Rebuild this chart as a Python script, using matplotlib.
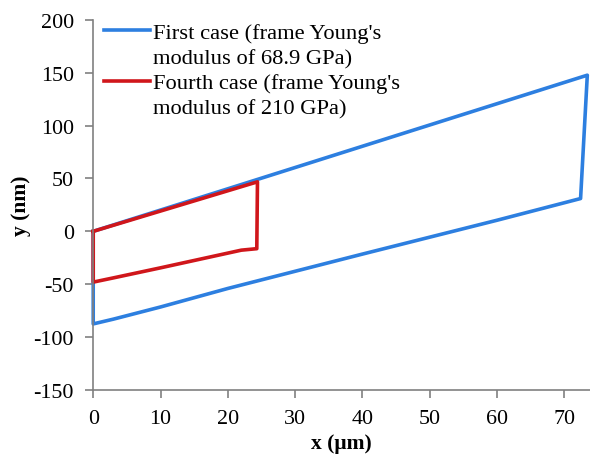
import matplotlib
matplotlib.use('Agg')
import matplotlib.pyplot as plt
from matplotlib.lines import Line2D

plt.rcParams['font.family'] = ['Liberation Serif', 'DejaVu Serif']
plt.rcParams['axes.unicode_minus'] = False

# first case (E = 68.9 GPa) closed loop
x_first = [0, 73.4, 72.4, 60, 40, 20, 10, 3, 0, 0]
y_first = [0, 147.6, 31, 10.5, -21.5, -54, -71.5, -83, -87.5, 0]
# fourth case (E = 210 GPa) closed loop
x_fourth = [0, 24.4, 24.3, 22, 10, 3, 0, 0]
y_fourth = [0, 46.8, -16.4, -17.8, -34.5, -44, -48, 0]

label_lines = ["First case (frame Young's", "modulus of 68.9 GPa)",
               "Fourth case (frame Young's", "modulus of 210 GPa)"]
xticks = [0, 10, 20, 30, 40, 50, 60, 70]
yticks = [-150, -100, -50, 0, 50, 100, 150, 200]
blue = '#2d7fe0'
red = '#d0161b'

fig = plt.figure(figsize=(5.9, 4.56), dpi=100)
ax = fig.add_axes([0.158, 0.1425, 0.842, 0.812])

ax.plot(x_first, y_first, color=blue, lw=2.6, clip_on=False)
ax.plot(x_fourth, y_fourth, color=red, lw=2.6, clip_on=False)

ax.set_xlim(0, 73.8)
ax.set_ylim(-150, 200)
ax.set_xticks(xticks)
ax.set_yticks(yticks)
ax.tick_params(labelsize=15.8, color='#808080', length=6, width=1.2, pad=8)

for s in ['top', 'right']:
    ax.spines[s].set_visible(False)
for s in ['left', 'bottom']:
    ax.spines[s].set_color('#808080')
    ax.spines[s].set_linewidth(1.2)

ax.set_xlabel('x (\u03bcm)', fontsize=15.5, fontweight='bold', labelpad=3)
ax.set_ylabel('y (nm)', fontsize=15.5, fontweight='bold', labelpad=2)

# one legend row per text line so the handle sits on the first line
handles = [Line2D([], [], color=blue, lw=2.6), Line2D([], [], color='none'),
           Line2D([], [], color=red, lw=2.6), Line2D([], [], color='none')]
ax.legend(handles, label_lines, loc='upper left', bbox_to_anchor=(-0.005, 1.03),
          frameon=False, fontsize=16.2, handlelength=2.05, handletextpad=0.12,
          labelspacing=0.2, borderaxespad=0.2)

fig.savefig('out.png', dpi=100)
